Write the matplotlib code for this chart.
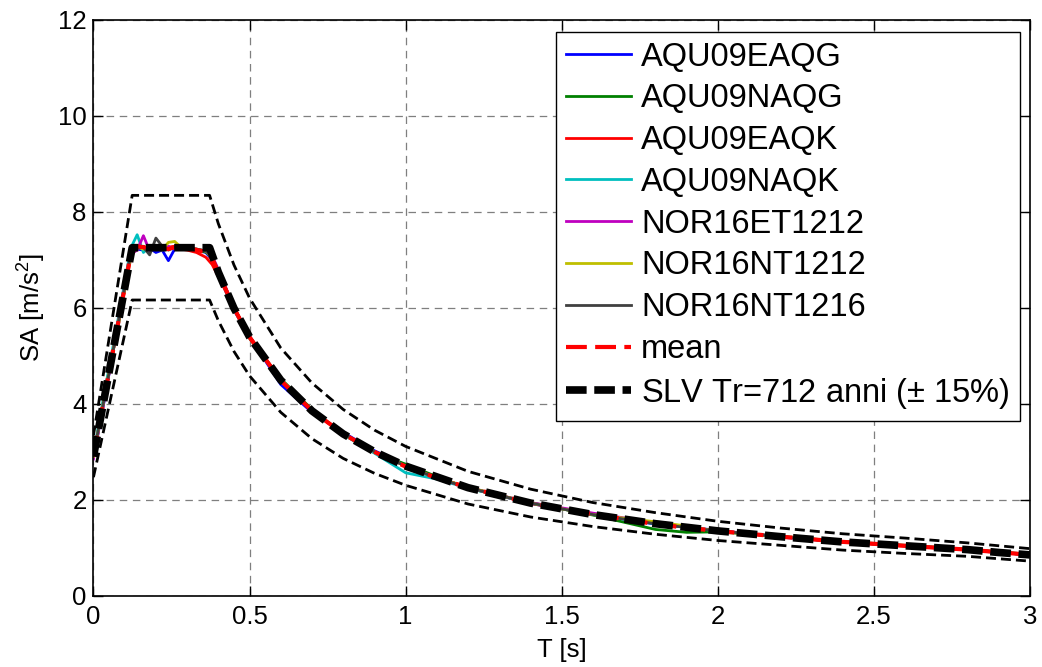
import numpy as np
import matplotlib
matplotlib.use('Agg')
import matplotlib.pyplot as plt

plt.rcParams['font.family'] = ['Liberation Sans', 'DejaVu Sans']
plt.rcParams['mathtext.fontset'] = 'custom'
plt.rcParams['mathtext.rm'] = 'Liberation Sans'
plt.rcParams['mathtext.default'] = 'regular'

# Periodi dei record (s)
T_rec = [0, 0.04, 0.08, 0.12, 0.14, 0.16, 0.18, 0.20, 0.22, 0.24, 0.26, 0.28,
         0.30, 0.33, 0.36, 0.38, 0.40, 0.45, 0.50, 0.60, 0.70, 0.80, 0.90, 1.00,
         1.10, 1.20, 1.40, 1.60, 1.80, 1.90, 2.00, 2.20, 2.40, 2.60, 2.80, 3.00]

rec_names = ['AQU09EAQG', 'AQU09NAQG', 'AQU09EAQK', 'AQU09NAQK',
             'NOR16ET1212', 'NOR16NT1212', 'NOR16NT1216']
rec_colors = ['#0000ff', '#008000', '#ff0000', '#00bfbf',
              '#bf00bf', '#bfbf00', '#404040']

sa_aqu09eaqg = [2.88, 4.25, 5.75, 7.20, 7.22, 7.20, 7.24, 7.15, 7.20, 6.98, 7.22, 7.26,
                7.22, 7.20, 7.15, 7.00, 6.70, 5.95, 5.40, 4.40, 3.82, 3.40, 3.02, 2.72,
                2.44, 2.26, 1.92, 1.70, 1.49, 1.43, 1.36, 1.22, 1.12, 1.04, 0.95, 0.85]
sa_aqu09naqg = [2.92, 4.35, 5.65, 7.15, 7.24, 7.28, 7.22, 7.25, 7.27, 7.24, 7.26, 7.23,
                7.24, 7.20, 7.16, 7.05, 6.75, 6.02, 5.36, 4.52, 3.88, 3.36, 2.98, 2.74,
                2.48, 2.24, 1.94, 1.68, 1.38, 1.32, 1.33, 1.24, 1.13, 1.05, 0.97, 0.86]
sa_aqu09eaqk = [2.90, 4.30, 5.68, 7.05, 7.28, 7.22, 7.26, 7.24, 7.22, 7.26, 7.28, 7.22,
                7.20, 7.15, 7.05, 6.90, 6.65, 6.00, 5.40, 4.50, 3.84, 3.38, 3.00, 2.70,
                2.46, 2.26, 1.92, 1.70, 1.51, 1.43, 1.35, 1.23, 1.12, 1.03, 0.96, 0.85]
sa_aqu09naqk = [2.95, 4.40, 5.80, 7.25, 7.52, 7.15, 7.28, 7.24, 7.26, 7.22, 7.25, 7.24,
                7.26, 7.22, 7.18, 7.05, 6.70, 5.96, 5.38, 4.48, 3.86, 3.36, 2.97, 2.56,
                2.43, 2.24, 1.93, 1.69, 1.50, 1.42, 1.35, 1.23, 1.12, 1.04, 0.96, 0.85]
sa_nor16et1212 = [2.85, 4.28, 5.72, 7.12, 7.20, 7.50, 7.18, 7.26, 7.24, 7.28, 7.22, 7.26,
                  7.24, 7.22, 7.18, 7.08, 6.80, 6.00, 5.38, 4.50, 3.85, 3.37, 3.00, 2.70,
                  2.45, 2.25, 1.94, 1.72, 1.52, 1.43, 1.35, 1.23, 1.12, 1.04, 0.96, 0.85]
sa_nor16nt1212 = [2.90, 4.32, 5.70, 7.10, 7.26, 7.22, 7.25, 7.22, 7.20, 7.36, 7.38, 7.26,
                  7.24, 7.22, 7.18, 7.04, 6.74, 6.00, 5.38, 4.50, 3.86, 3.37, 3.00, 2.70,
                  2.45, 2.26, 1.93, 1.69, 1.54, 1.45, 1.34, 1.23, 1.12, 1.04, 0.96, 0.85]
sa_nor16nt1216 = [2.92, 4.30, 5.70, 7.14, 7.24, 7.26, 7.10, 7.45, 7.28, 7.20, 7.26, 7.28,
                  7.24, 7.22, 7.18, 7.06, 6.76, 6.00, 5.40, 4.48, 3.85, 3.38, 3.00, 2.70,
                  2.45, 2.25, 1.93, 1.69, 1.50, 1.42, 1.35, 1.23, 1.12, 1.04, 0.96, 0.85]

records = [sa_aqu09eaqg, sa_aqu09naqg, sa_aqu09eaqk, sa_aqu09naqk,
           sa_nor16et1212, sa_nor16nt1212, sa_nor16nt1216]

# Spettro di normativa SLV Tr=712 anni e fascia +/-15%
T_slv = [0, 0.124, 0.372, 0.40, 0.45, 0.50, 0.60, 0.70, 0.80, 0.90, 1.00,
         1.20, 1.40, 1.60, 1.80, 2.00, 2.20, 2.40, 2.60, 2.80, 2.90, 3.00]
sa_slv = [2.90, 7.25, 7.25, 6.74, 5.99, 5.39, 4.49, 3.85, 3.37, 3.00, 2.70,
          2.25, 1.93, 1.69, 1.50, 1.35, 1.23, 1.12, 1.04, 0.96, 0.90, 0.85]
sa_slv_up = [3.34, 8.34, 8.34, 7.75, 6.89, 6.20, 5.16, 4.43, 3.88, 3.45, 3.11,
             2.59, 2.22, 1.94, 1.73, 1.55, 1.41, 1.29, 1.20, 1.10, 1.04, 0.98]
sa_slv_low = [2.47, 6.16, 6.16, 5.73, 5.09, 4.58, 3.82, 3.27, 2.86, 2.55, 2.30,
              1.91, 1.64, 1.44, 1.28, 1.15, 1.05, 0.95, 0.88, 0.82, 0.77, 0.72]

sa_mean = np.mean(np.array(records), axis=0)

fig = plt.figure(figsize=(10.42, 6.67), dpi=100)
ax = fig.add_axes([0.0897, 0.1069, 0.8988, 0.8636])

for sa, name, col in zip(records, rec_names, rec_colors):
    ax.plot(T_rec, sa, color=col, lw=2, label=name)

ax.plot(T_rec, sa_mean, color='red', lw=3, dashes=(5, 2), label='mean')
ax.plot(T_slv, sa_slv, color='black', lw=5.5, dashes=(2.7, 1.0),
        label='SLV Tr=712 anni ($\\pm$ 15%)')
ax.plot(T_slv, sa_slv_up, color='black', lw=2, dashes=(3.6, 1.8))
ax.plot(T_slv, sa_slv_low, color='black', lw=2, dashes=(3.6, 1.8))

ax.set_xlim(0, 3)
ax.set_ylim(0, 12)
ax.set_xticks([0, 0.5, 1, 1.5, 2, 2.5, 3])
ax.set_xticklabels(['0', '0.5', '1', '1.5', '2', '2.5', '3'])
ax.set_yticks([0, 2, 4, 6, 8, 10, 12])
ax.tick_params(direction='in', top=True, right=True, length=7, width=1,
               labelsize=18.5)
ax.tick_params(axis='x', pad=7)
ax.tick_params(axis='y', pad=5)
ax.grid(True, color='#7f7f7f', lw=0.9, linestyle=(0, (6, 4.5)))
for sp in ax.spines.values():
    sp.set_linewidth(1.2)

ax.set_xlabel('T [s]', fontsize=18.5, labelpad=6)
ax.set_ylabel('SA [m/s$^2$]', fontsize=18.5, labelpad=7)

leg = ax.legend(loc='upper right', bbox_to_anchor=(0.989, 0.979), borderaxespad=0,
                fontsize=23.5, handlelength=2.0, labelspacing=0.33, handletextpad=0.3,
                borderpad=0.3, fancybox=False, framealpha=1, edgecolor='black')
leg.get_frame().set_linewidth(1.0)

plt.savefig('out.png', dpi=100)
